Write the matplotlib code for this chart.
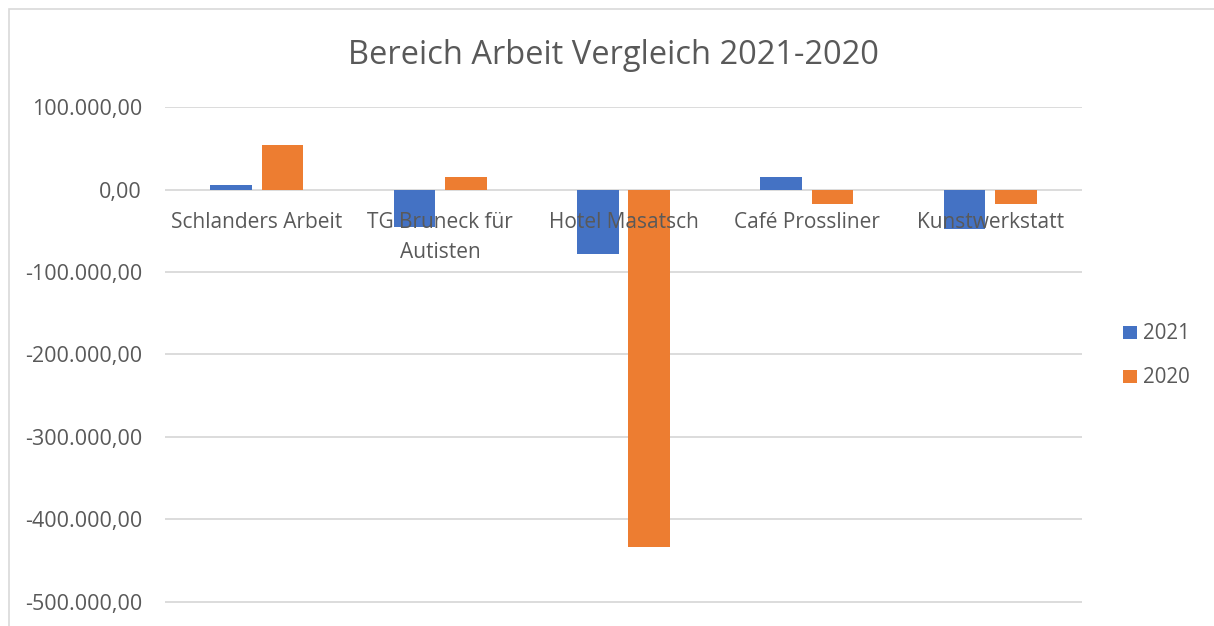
import matplotlib
matplotlib.use("Agg")
import matplotlib.pyplot as plt
import matplotlib.transforms as mtransforms
from matplotlib.patches import Rectangle
from matplotlib.ticker import FuncFormatter
import numpy as np

categories = ["Schlanders Arbeit", "TG Bruneck für\nAutisten", "Hotel Masatsch",
              "Café Prossliner", "Kunstwerkstatt"]
values_2021 = [6000, -45000, -78500, 16000, -47500]
values_2020 = [54000, 15500, -434000, -17000, -17000]
series_labels = ["2021", "2020"]
y_ticks = [100000, 0, -100000, -200000, -300000, -400000, -500000]
title = "Bereich Arbeit Vergleich 2021-2020"

BLUE = "#4472C4"
ORANGE = "#ED7D31"
GRID = "#D9D9D9"
TEXT = "#595959"
FONT = ["Open Sans", "DejaVu Sans"]

plt.rcParams["font.family"] = FONT

W, H = 1214, 626
fig = plt.figure(figsize=(W / 100, H / 100), dpi=100)


def fx(px):
    return px / W


def fy(py):
    return 1 - py / H


# chart border (cropped screenshot: only top and left visible)
fig.add_artist(Rectangle((fx(8.5), -0.1), 1.2, fy(9) + 0.1,
                         transform=fig.transFigure, fill=False,
                         edgecolor="#D9D9D9", linewidth=1.2))

ax_left, ax_right = fx(165), fx(1082)
ax_top = fy(107.3)
ax = fig.add_axes([ax_left, 0, ax_right - ax_left, ax_top])

x = np.arange(len(categories))
bw = 0.226
off = 0.14
ax.bar(x - off, values_2021, bw, color=BLUE, zorder=2, label=series_labels[0])
ax.bar(x + off, values_2020, bw, color=ORANGE, zorder=2, label=series_labels[1])

ax.set_xlim(-0.5, len(categories) - 0.5)
ax.set_ylim(-529500, 100000)
ax.set_yticks(y_ticks)


def de_fmt(v, pos=None):
    s = f"{abs(v):,.2f}".replace(",", "X").replace(".", ",").replace("X", ".")
    return ("-" if v < 0 else "") + s


ax.yaxis.set_major_formatter(FuncFormatter(de_fmt))
ax.tick_params(axis="y", length=0, pad=16.5, labelsize=15.5, labelcolor=TEXT)
ax.set_xticks([])
ax.grid(axis="y", color=GRID, linewidth=1.3, zorder=1)
ax.set_axisbelow(True)
for sp in ax.spines.values():
    sp.set_visible(False)

# category labels below the zero line, drawn over the bars
for xi, lab in zip(x, categories):
    for li, line in enumerate(lab.split("\n")):
        tr = mtransforms.offset_copy(ax.transData, fig=fig, x=0,
                                     y=-(38.3 + 30 * li) * 0.72, units="points")
        ax.text(xi, 0, line, ha="center", va="baseline", fontsize=15, color=TEXT,
                transform=tr, zorder=5)

fig.text(fx(613.5), fy(64.3), title, ha="center", va="baseline", fontsize=23.5, color=TEXT)

# legend
legend_rows = [(series_labels[0], BLUE, 339.3), (series_labels[1], ORANGE, 383.3)]
for lab, col, base in legend_rows:
    fig.add_artist(Rectangle((fx(1122.7), fy(base)), fx(14), 13 / H,
                             transform=fig.transFigure, facecolor=col, edgecolor="none"))
    fig.text(fx(1143), fy(base), lab, ha="left", va="baseline", fontsize=14.8, color=TEXT)

fig.savefig("out.png", dpi=100)
